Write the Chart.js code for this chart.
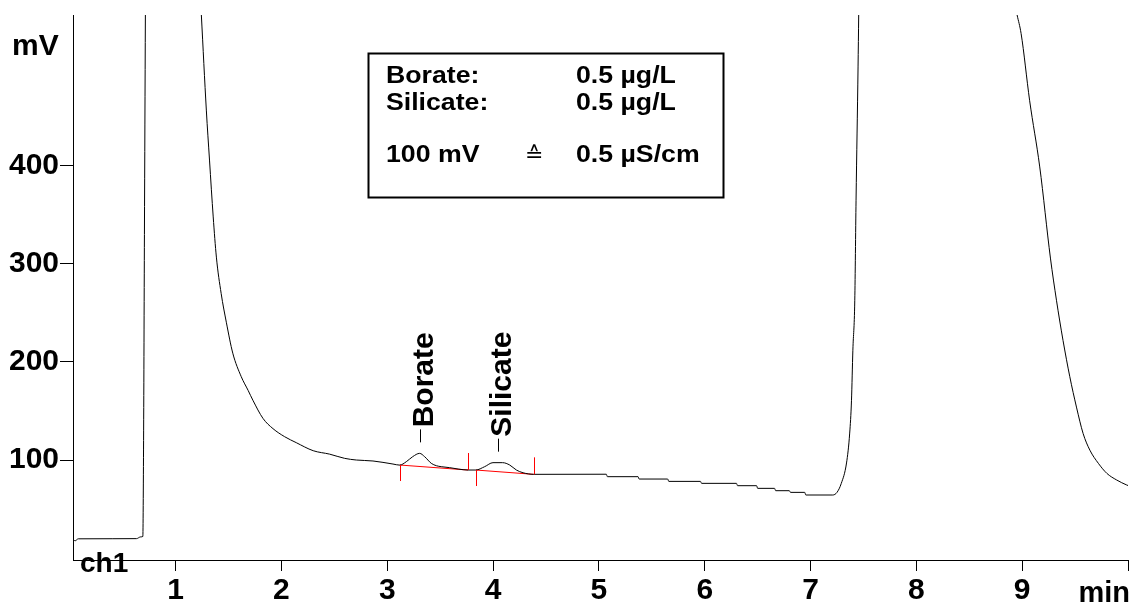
<!DOCTYPE html>
<html>
<head>
<meta charset="utf-8">
<title>Chromatogram ch1</title>
<script src="https://cdn.jsdelivr.net/npm/chart.js@4.4.1/dist/chart.umd.min.js"></script>
<style>
  html, body { margin: 0; padding: 0; background: #fff; }
  canvas { display: block; }
</style>
</head>
<body>
<canvas id="chroma" width="1133" height="605"></canvas>
<script>
// retention time (min) and detector signal (mV); null = off scale
const timeMin = [
  0.03, 0.05, 0.08, 0.40, 0.63, 0.67, 0.69, 0.697, 0.705, 0.714, 1.0,
  1.243, 1.29, 1.32, 1.355, 1.385, 1.43, 1.48, 1.54, 1.62, 1.685,
  1.73, 1.825, 1.92, 2.03, 2.14, 2.30, 2.455, 2.597, 2.708, 2.865, 3.054, 3.117,
  3.18, 3.24, 3.306, 3.353, 3.416, 3.464, 3.51, 3.59, 3.67, 3.763, 3.836,
  3.92, 3.999, 4.09, 4.157, 4.22, 4.283, 4.384,
  5.07, 5.08, 5.37, 5.38, 5.65, 5.66, 5.96, 5.97, 6.30, 6.31, 6.49, 6.50,
  6.66, 6.67, 6.80, 6.81, 6.945, 6.955, 7.21, 7.25, 7.29, 7.34, 7.37,
  7.387, 7.40, 7.418, 7.43, 7.449, 7.455, 8.2,
  8.952, 8.99, 9.07, 9.166, 9.267, 9.324, 9.386, 9.45, 9.513, 9.576,
  9.64, 9.72, 9.80, 9.893, 9.988, 10.0
];
const signalMv = [
  19.4, 17.6, 19.6, 19.7, 19.8, 21.6, 22, 120, 330, 554, null,
  554, 457, 406, 348, 307, 270, 240, 209, 185, 171,
  161, 142.5, 132, 123.8, 117.7, 109.5, 106, 101.7, 100, 99, 95.9, 94.8,
  98.3, 103.4, 106.8, 103.4, 96.6, 94.2, 93.2, 92.2, 90.8, 89.8, 89.8,
  93.2, 97.3, 97.3, 94.9, 89.8, 87, 85.4,
  85.5, 83, 83, 80.6, 80.6, 78.2, 78.2, 76.2, 76.2, 73.8, 73.8, 71.1,
  71.1, 68.7, 68.7, 67, 67, 64.3, 64.3, 67, 76, 97, 127.5,
  161, 212, 263, 365, 501, 554, null,
  554, 535, 467, 399, 306, 263, 222, 185, 154, 127,
  110, 96.6, 86.4, 79.6, 74.5, 74
];

// integration baselines
const baseStartMin = [3.117, 3.836];
const baseStartMv = [94.9, 89.8];
const baseEndMin = [3.763, 4.384];
const baseEndMv = [89.8, 85.4];

// peak labels
const peakNames = ['Borate', 'Silicate'];
const peakMin = [3.31, 4.044];
const peakMv = [106.8, 97.3];

const xTicks = [1, 2, 3, 4, 5, 6, 7, 8, 9, 10];
const yTicks = [100, 200, 300, 400];

const legendRows = [
  ['Borate:', '', '0.5 µg/L'],
  ['Silicate:', '', '0.5 µg/L'],
  ['100 mV', '≙', '0.5 µS/cm']
];

const FONT = '"Liberation Sans", Arial, Helvetica, sans-serif';
Chart.defaults.font.family = FONT;
Chart.defaults.color = '#000';

const trace = timeMin.map((t, i) => ({ x: t, y: signalMv[i] }));
const baselines = [];
baseStartMin.forEach((t, i) => {
  if (i > 0) baselines.push({ x: t - 0.01, y: null });
  baselines.push({ x: t, y: baseStartMv[i] });
  baselines.push({ x: baseEndMin[i], y: baseEndMv[i] });
});

function stretchText(ctx, text, x, y, sx) {
  ctx.save();
  ctx.translate(x, y);
  ctx.scale(sx, 1);
  ctx.fillText(text, 0, 0);
  ctx.restore();
}

const annotate = {
  id: 'annotate',
  afterDraw(chart) {
    const { ctx, scales: { x, y } } = chart;
    ctx.save();
    ctx.fillStyle = '#000';
    ctx.strokeStyle = '#000';
    ctx.lineWidth = 1;
    ctx.textBaseline = 'alphabetic';

    // axis captions
    ctx.font = 'bold 30px ' + FONT;
    ctx.textAlign = 'left';
    ctx.fillText('mV', 12, 55);
    ctx.font = 'bold 28px ' + FONT;
    ctx.fillText('ch1', 80, 572);
    ctx.font = 'bold 29px ' + FONT;
    ctx.textAlign = 'right';
    ctx.fillText('min', 1130, 602);

    // red start / end marks of the baselines
    ctx.strokeStyle = '#ff0000';
    baseStartMin.forEach((t, i) => {
      const sx = Math.round(x.getPixelForValue(t)) + 0.5;
      const sy = y.getPixelForValue(baseStartMv[i]);
      ctx.beginPath(); ctx.moveTo(sx, sy); ctx.lineTo(sx, sy + 16); ctx.stroke();
      const ex = Math.round(x.getPixelForValue(baseEndMin[i])) + 0.5;
      const ey = y.getPixelForValue(baseEndMv[i]);
      ctx.beginPath(); ctx.moveTo(ex, ey - 17); ctx.lineTo(ex, ey); ctx.stroke();
    });

    // peak names
    ctx.strokeStyle = '#000';
    ctx.font = 'bold 30px ' + FONT;
    ctx.textAlign = 'left';
    peakNames.forEach((name, i) => {
      const px = Math.round(x.getPixelForValue(peakMin[i])) + 0.5;
      const py = y.getPixelForValue(peakMv[i]);
      ctx.beginPath(); ctx.moveTo(px, py - 11); ctx.lineTo(px, py - 24); ctx.stroke();
      ctx.save();
      ctx.translate(px + 12, py - 26);
      ctx.rotate(-Math.PI / 2);
      ctx.fillText(name, 0, 0);
      ctx.restore();
    });

    // legend box
    ctx.lineWidth = 2;
    ctx.strokeRect(368.5, 53.5, 355, 144);
    const rowY = [83, 109.5, 162];
    legendRows.forEach((row, i) => {
      ctx.font = 'bold 23px ' + FONT;
      stretchText(ctx, row[0], 386, rowY[i], 1.16);
      stretchText(ctx, row[2], 576, rowY[i], 1.16);
      if (row[1]) {
        ctx.font = '22px "DejaVu Sans", sans-serif';
        ctx.fillText(row[1], 525, rowY[i]);
      }
    });
    ctx.restore();
  }
};

new Chart(document.getElementById('chroma'), {
  type: 'line',
  data: {
    datasets: [
      { data: trace, borderColor: '#000', borderWidth: 1, pointRadius: 0, cubicInterpolationMode: 'monotone', spanGaps: false },
      { data: baselines, borderColor: '#ff0000', borderWidth: 1, pointRadius: 0, tension: 0, spanGaps: false }
    ]
  },
  options: {
    responsive: false,
    animation: false,
    events: [],
    layout: { padding: { top: 15, right: 5, left: 0, bottom: 0 } },
    plugins: { legend: { display: false }, tooltip: { enabled: false } },
    scales: {
      x: {
        type: 'linear',
        min: 0.03,
        max: 10,
        afterBuildTicks: axis => { axis.ticks = xTicks.map(v => ({ value: v })); },
        afterFit: axis => { axis.height = 45; axis.paddingLeft = 0; axis.paddingRight = 0; },
        ticks: {
          callback: v => (v === 10 ? '' : v),
          font: { size: 30, weight: 'bold' },
          color: '#000',
          padding: 2,
          maxRotation: 0,
          autoSkip: false
        },
        grid: { drawOnChartArea: false, drawTicks: true, tickLength: 11, color: '#000', lineWidth: 1 },
        border: { display: true, color: '#000', width: 1 }
      },
      y: {
        min: -2,
        max: 554,
        afterBuildTicks: axis => { axis.ticks = yTicks.map(v => ({ value: v })); },
        afterFit: axis => { axis.width = 73; axis.paddingTop = 0; axis.paddingBottom = 0; },
        ticks: {
          font: { size: 30, weight: 'bold' },
          color: '#000',
          padding: 1
        },
        grid: { drawOnChartArea: false, drawTicks: true, tickLength: 13, color: '#000', lineWidth: 1 },
        border: { display: true, color: '#000', width: 1 }
      }
    }
  },
  plugins: [annotate]
});
</script>
</body>
</html>
